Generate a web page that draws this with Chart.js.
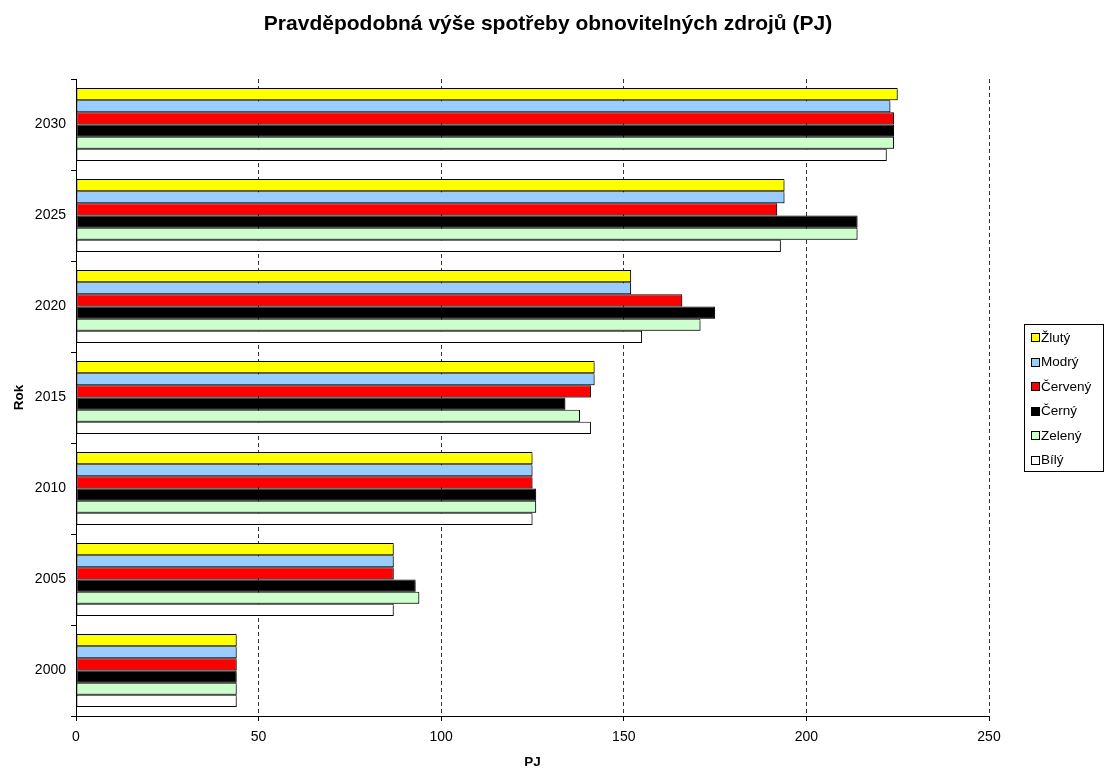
<!DOCTYPE html>
<html>
<head>
<meta charset="utf-8">
<script src="https://cdn.jsdelivr.net/npm/chart.js@4/dist/chart.umd.min.js"></script>
<style>
    body { margin: 0; background: #fff; }
    #wrap { width: 1109px; height: 768px; }
</style>
</head>
<body>
<div id="wrap"><canvas id="spotrebaChart" width="1109" height="768"></canvas></div>
<script>
// Data (top to bottom as in the chart)
const roky = ['2030', '2025', '2020', '2015', '2010', '2005', '2000'];
const zluty = [225, 194, 152, 142, 125, 87, 44];
const modry = [223, 194, 152, 142, 125, 87, 44];
const cerveny = [224, 192, 166, 141, 125, 87, 44];
const cerny = [224, 214, 175, 134, 126, 93, 44];
const zeleny = [224, 214, 171, 138, 126, 94, 44];
const bily = [222, 193, 155, 141, 125, 87, 44];
const xTicks = [0, 50, 100, 150, 200, 250];

const nazev = 'Pravděpodobná výše spotřeby obnovitelných zdrojů (PJ)';
const FONT = '"Liberation Sans", Arial, sans-serif';

// soft grey shadow under the bars, like the original
const stiny = {
    id: 'stiny',
    beforeDatasetsDraw(chart) {
        const ctx = chart.ctx;
        ctx.save();
        ctx.shadowColor = 'rgba(0, 0, 0, 0.35)';
        ctx.shadowOffsetX = 2;
        ctx.shadowOffsetY = 2;
        ctx.shadowBlur = 0;
    },
    afterDatasetsDraw(chart) {
        chart.ctx.restore();
    }
};

// Title, axis titles and the boxed legend
const extras = {
    id: 'extras',
    afterDraw(chart) {
        const ctx = chart.ctx;
        const area = chart.chartArea;
        ctx.save();
        ctx.fillStyle = '#000';
        ctx.textAlign = 'center';
        ctx.textBaseline = 'middle';
        ctx.font = 'bold 21px ' + FONT;
        ctx.fillText(nazev, 548, 24);

        ctx.font = 'bold 13.5px ' + FONT;
        ctx.fillText('PJ', (area.left + area.right) / 2, 762);

        ctx.save();
        ctx.translate(19, (area.top + area.bottom) / 2);
        ctx.rotate(-Math.PI / 2);
        ctx.fillText('Rok', 0, 0);
        ctx.restore();

        // legend
        ctx.strokeStyle = '#000';
        ctx.lineWidth = 1;
        ctx.strokeRect(1024.5, 324.5, 79, 147);
        ctx.font = '13.5px ' + FONT;
        ctx.textAlign = 'left';
        chart.data.datasets.forEach((ds, i) => {
            const y = 337 + i * 24.5;
            const top = Math.round(y) - 4 + 0.5;
            ctx.fillStyle = ds.backgroundColor;
            ctx.fillRect(1031.5, top, 8, 8);
            ctx.strokeRect(1031.5, top, 8, 8);
            ctx.fillStyle = '#000';
            ctx.fillText(ds.label, 1041, y + 1);
        });
        ctx.restore();
    }
};

function serie(label, data, color) {
    return {
        label: label,
        data: data,
        backgroundColor: color,
        borderColor: '#000',
        borderWidth: 1,
        borderSkipped: false,
        categoryPercentage: 0.8,
        barPercentage: 1.0
    };
}

const ctx = document.getElementById('spotrebaChart').getContext('2d');
new Chart(ctx, {
    type: 'bar',
    data: {
        labels: roky,
        datasets: [
            serie('Žlutý', zluty, '#ffff00'),
            serie('Modrý', modry, '#99ccff'),
            serie('Červený', cerveny, '#ff0000'),
            serie('Černý', cerny, '#000000'),
            serie('Zelený', zeleny, '#ccffcc'),
            serie('Bílý', bily, '#ffffff')
        ]
    },
    options: {
        indexAxis: 'y',
        responsive: false,
        animation: false,
        layout: { padding: { left: 0, top: 79, right: 120, bottom: 0 } },
        plugins: {
            legend: { display: false },
            title: { display: false },
            tooltip: { enabled: false }
        },
        scales: {
            x: {
                min: 0,
                max: 250,
                afterFit: s => { s.height = 52; },
                afterBuildTicks: s => { s.ticks = xTicks.map(v => ({ value: v })); },
                ticks: { color: '#000', font: { family: FONT, size: 14 }, padding: 8 },
                grid: {
                    color: '#333',
                    lineWidth: 1,
                    tickColor: '#000',
                    tickLength: 5,
                    tickBorderDash: []
                },
                border: { color: '#000', width: 1, dash: [4, 3] }
            },
            y: {
                afterFit: s => { s.width = 76; },
                ticks: { color: '#000', font: { family: FONT, size: 14 }, padding: 5 },
                grid: {
                    offset: true,
                    drawOnChartArea: false,
                    tickColor: '#000',
                    tickLength: 5
                },
                border: { color: '#000', width: 1 }
            }
        }
    },
    plugins: [stiny, extras]
});
</script>
</body>
</html>
